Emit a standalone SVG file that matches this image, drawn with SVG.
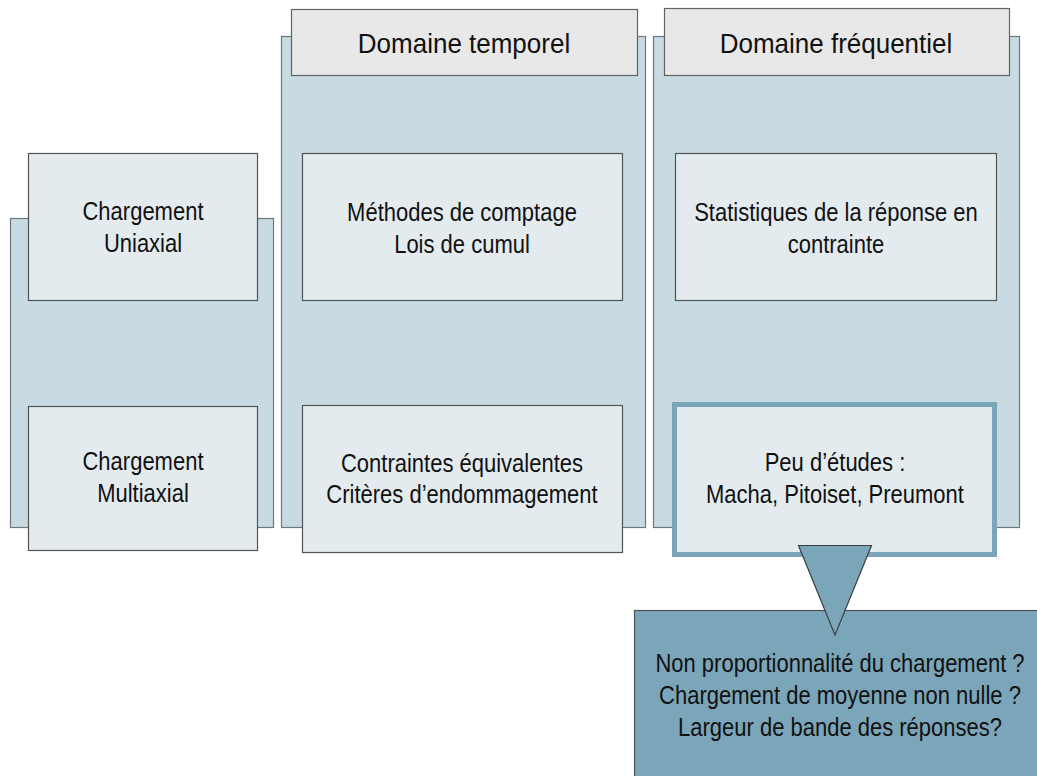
<svg xmlns="http://www.w3.org/2000/svg" width="1037" height="776" viewBox="0 0 1037 776">
<style>
.col{fill:#c8dbe3;stroke:#6e777b;stroke-width:1.2}
.hdr{fill:#e8e8e8;stroke:#5f6366;stroke-width:1.2}
.box{fill:#e3ebee;stroke:#4f5355;stroke-width:1.2}
.hl{fill:#e3ebee;stroke:#7ba5b9;stroke-width:5}
.note{fill:#7ba5b9;stroke:#4f5355;stroke-width:1.2}
.ptr{fill:#7ba5b9;stroke:#3a3f42;stroke-width:1.2;stroke-linejoin:miter}
text{font-family:"Liberation Sans",Arial,sans-serif;fill:#111;text-anchor:middle}
.t{font-size:22px}
.h{font-size:26px}
</style>
<rect width="1037" height="776" fill="#ffffff"/>
<g id="col-left"><rect class="col" x="10.5" y="218.5" width="263" height="309"/></g>
<g id="col-temporel"><rect class="col" x="281.5" y="36.5" width="364" height="491"/></g>
<g id="col-frequentiel"><rect class="col" x="653.5" y="36.5" width="366" height="491"/></g>
<g id="hdr-temporel"><rect class="hdr" x="291.5" y="9.5" width="346" height="66"/><text class="h" x="464" y="53" transform="matrix(1 0 0 1.08 0 -4.24)">Domaine temporel</text></g>
<g id="hdr-frequentiel"><rect class="hdr" x="664.5" y="8.5" width="345" height="67"/><text class="h" x="836" y="53" transform="matrix(1 0 0 1.08 0 -4.24)">Domaine fréquentiel</text></g>
<g id="uniaxial"><rect class="box" x="28.5" y="153.5" width="229" height="147"/><text class="t" x="143" y="220" transform="matrix(1 0 0 1.14 0 -30.8)">Chargement</text><text class="t" x="143" y="252" transform="matrix(1 0 0 1.14 0 -35.28)">Uniaxial</text></g>
<g id="multiaxial"><rect class="box" x="28.5" y="406.5" width="229" height="144"/><text class="t" x="143" y="470" transform="matrix(1 0 0 1.14 0 -65.8)">Chargement</text><text class="t" x="143" y="502" transform="matrix(1 0 0 1.14 0 -70.28)">Multiaxial</text></g>
<g id="methodes"><rect class="box" x="302.5" y="153.5" width="320" height="147"/><text class="t" x="462" y="221" transform="matrix(1 0 0 1.14 0 -30.94)">Méthodes de comptage</text><text class="t" x="462" y="253" transform="matrix(1 0 0 1.14 0 -35.42)">Lois de cumul</text></g>
<g id="contraintes"><rect class="box" x="302.5" y="405.5" width="320" height="147"/><text class="t" x="462" y="472" transform="matrix(1 0 0 1.14 0 -66.08)">Contraintes équivalentes</text><text class="t" x="462" y="503" transform="matrix(1 0 0 1.14 0 -70.42)">Critères d’endommagement</text></g>
<g id="statistiques"><rect class="box" x="675.5" y="153.5" width="321" height="147"/><text class="t" x="836" y="221" transform="matrix(1 0 0 1.14 0 -30.94)">Statistiques de la réponse en</text><text class="t" x="836" y="253" transform="matrix(1 0 0 1.14 0 -35.42)">contrainte</text></g>
<g id="peu-etudes"><rect class="hl" x="674.5" y="404.5" width="320" height="150"/><text class="t" x="835" y="471" transform="matrix(1 0 0 1.14 0 -65.94)">Peu d’études :</text><text class="t" x="835" y="503" transform="matrix(1 0 0 1.14 0 -70.42)">Macha, Pitoiset, Preumont</text></g>
<g id="questions"><rect class="note" x="634.5" y="610.5" width="420" height="200"/><text class="t" x="840" y="672" transform="matrix(1 0 0 1.14 0 -94.08)">Non proportionnalité du chargement ?</text><text class="t" x="840" y="704" transform="matrix(1 0 0 1.14 0 -98.56)">Chargement de moyenne non nulle ?</text><text class="t" x="840" y="736" transform="matrix(1 0 0 1.14 0 -103.04)">Largeur de bande des réponses?</text></g>
<g id="connectors"><polygon class="ptr" points="798.5,545.5 871.5,545.5 835,635"/></g>
</svg>
